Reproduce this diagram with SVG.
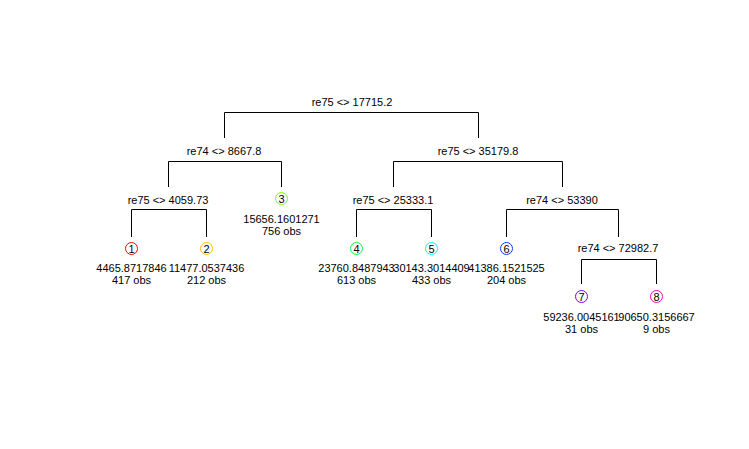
<svg xmlns="http://www.w3.org/2000/svg" width="749" height="449" viewBox="0 0 749 449">
  <style>
    text { font-family: "Liberation Sans", Arial, sans-serif; font-size: 11px; fill: #000; text-anchor: middle; }
    .edge { fill: none; stroke: #000; stroke-width: 1; }
    .leaf { fill: none; stroke-width: 1; }
  </style>
  <rect width="749" height="449" fill="#fff"/>

  <!-- tree branches -->
  <g id="connectors">
    <path class="edge" d="M224.5,138 V112.5 H478.5 V138"/>
    <path class="edge" d="M168.5,187 V161.5 H281.5 V187"/>
    <path class="edge" d="M393.5,187 V161.5 H562.5 V187"/>
    <path class="edge" d="M131.5,237 V209.5 H206.5 V237"/>
    <path class="edge" d="M356.5,237 V209.5 H431.5 V237"/>
    <path class="edge" d="M506.5,237 V209.5 H618.5 V237"/>
    <path class="edge" d="M581.5,284 V259.5 H656.5 V284"/>
  </g>

  <!-- split nodes -->
  <g id="split-root"><text x="352" y="106">re75 &lt;&gt; 17715.2</text></g>
  <g id="split-l"><text x="224" y="155">re74 &lt;&gt; 8667.8</text></g>
  <g id="split-r"><text x="478" y="155">re75 &lt;&gt; 35179.8</text></g>
  <g id="split-ll"><text x="168" y="204">re75 &lt;&gt; 4059.73</text></g>
  <g id="split-rl"><text x="393" y="204">re75 &lt;&gt; 25333.1</text></g>
  <g id="split-rr"><text x="562" y="204">re74 &lt;&gt; 53390</text></g>
  <g id="split-rrr"><text x="618" y="252">re74 &lt;&gt; 72982.7</text></g>

  <!-- leaves -->
  <g id="leaf-1">
    <circle class="leaf" cx="131.5" cy="248.5" r="6" stroke="#FF0000"/>
    <text x="131.5" y="252.5">1</text>
    <text x="131.5" y="272">4465.8717846</text>
    <text x="131.5" y="284">417 obs</text>
  </g>
  <g id="leaf-2">
    <circle class="leaf" cx="206.5" cy="248.5" r="6" stroke="#FFBF00"/>
    <text x="206.5" y="252.5">2</text>
    <text x="206.5" y="272">11477.0537436</text>
    <text x="206.5" y="284">212 obs</text>
  </g>
  <g id="leaf-3">
    <circle class="leaf" cx="281.5" cy="198.5" r="6" stroke="#80FF00"/>
    <text x="281.5" y="202.5">3</text>
    <text x="281.5" y="223">15656.1601271</text>
    <text x="281.5" y="235">756 obs</text>
  </g>
  <g id="leaf-4">
    <circle class="leaf" cx="356.5" cy="248.5" r="6" stroke="#00FF40"/>
    <text x="356.5" y="252.5">4</text>
    <text x="356.5" y="272">23760.8487943</text>
    <text x="356.5" y="284">613 obs</text>
  </g>
  <g id="leaf-5">
    <circle class="leaf" cx="431.5" cy="248.5" r="6" stroke="#00FFFF"/>
    <text x="431.5" y="252.5">5</text>
    <text x="431.5" y="272">30143.3014409</text>
    <text x="431.5" y="284">433 obs</text>
  </g>
  <g id="leaf-6">
    <circle class="leaf" cx="506.5" cy="248.5" r="6" stroke="#0040FF"/>
    <text x="506.5" y="252.5">6</text>
    <text x="506.5" y="272">41386.1521525</text>
    <text x="506.5" y="284">204 obs</text>
  </g>
  <g id="leaf-7">
    <circle class="leaf" cx="581.5" cy="296.5" r="6" stroke="#8000FF"/>
    <text x="581.5" y="300.5">7</text>
    <text x="581.5" y="321">59236.0045161</text>
    <text x="581.5" y="333">31 obs</text>
  </g>
  <g id="leaf-8">
    <circle class="leaf" cx="656.5" cy="296.5" r="6" stroke="#FF00BF"/>
    <text x="656.5" y="300.5">8</text>
    <text x="656.5" y="321">90650.3156667</text>
    <text x="656.5" y="333">9 obs</text>
  </g>
</svg>
